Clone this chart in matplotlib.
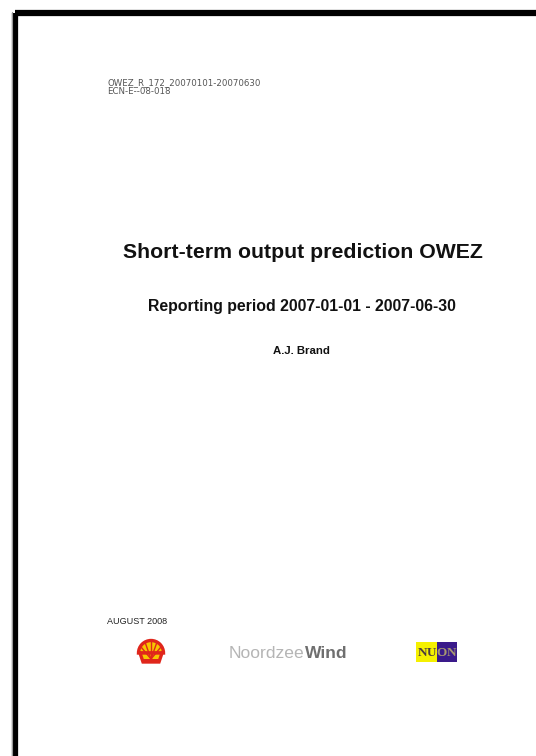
import numpy as np
import matplotlib.pyplot as plt
from matplotlib.patches import Rectangle, Wedge, Polygon

plt.rcParams["font.family"] = ["Liberation Sans", "DejaVu Sans"]

# cover page texts
report_codes = ["OWEZ_R_172_20070101-20070630", "ECN-E--08-018"]
title = "Short-term output prediction OWEZ"
subtitle = "Reporting period 2007-01-01 - 2007-06-30"
author = "A.J. Brand"
date_label = "AUGUST 2008"
partner_words = ["Noordzee", "Wind"]
nuon_letters = ["N", "U", "O", "N"]

W, H = 536, 756
fig = plt.figure(figsize=(W / 100, H / 100), dpi=100)
ax = fig.add_axes([0, 0, 1, 1])
ax.set_xlim(0, W)
ax.set_ylim(H, 0)
ax.axis("off")

# page frame (right and bottom run off the image)
ax.add_patch(Rectangle((14.5, 13), W + 20, H + 20, fill=False,
                       edgecolor="black", linewidth=4.5))
ax.plot([12, 12], [12, H], color="#999999", linewidth=0.8)

# small report codes
for i, code in enumerate(report_codes):
    ax.text(107, 83 + i * 8.5, code, fontsize=6.2, color="#555555",
            family="DejaVu Sans", ha="left", va="center")

ax.text(303, 253, title, fontsize=15.3, fontweight="bold",
        ha="center", va="center", color="#111111")
ax.text(302, 307, subtitle, fontsize=11.4, fontweight="bold",
        ha="center", va="center", color="#111111")
ax.text(301, 351, author, fontsize=8.2, fontweight="bold",
        ha="center", va="center", color="#111111")
ax.text(107, 622, date_label, fontsize=6.5, ha="left", va="center",
        color="#222222")

# Shell logo
cx, cy = 151, 653
ax.add_patch(Wedge((cx, cy), 12.5, 180, 360, facecolor="#f7c600",
                   edgecolor="#e0261b", linewidth=2.4, zorder=3))
ax.add_patch(Polygon([(cx - 11, cy), (cx + 11, cy), (cx + 8, cy + 9),
                      (cx - 8, cy + 9)], closed=True,
                     facecolor="#f7c600", edgecolor="#e0261b",
                     linewidth=2.4, zorder=3))
for ang in [-60, -30, 0, 30, 60]:
    a = np.deg2rad(90 + ang)
    ax.plot([cx, cx + 11 * np.cos(a)], [cy + 6, cy - 11 * np.sin(a)],
            color="#e0261b", linewidth=1.0, zorder=4)
ax.add_patch(Rectangle((cx - 8, cy + 5.5), 16, 3.5, facecolor="#e0261b",
                       edgecolor="none", zorder=4))

# NoordzeeWind wordmark
t1 = ax.text(229, 653, partner_words[0], fontsize=12.6, color="#b5b5b5",
             ha="left", va="center")
ax.annotate(partner_words[1], xy=(1, 0.5), xycoords=t1,
            fontsize=12.6, fontweight="bold", color="#6f6f6f",
            ha="left", va="center")

# NUON logo
ax.add_patch(Rectangle((416, 642), 21, 20, facecolor="#f5f000",
                       edgecolor="none"))
ax.add_patch(Rectangle((437, 642), 20, 20, facecolor="#3a1a8a",
                       edgecolor="none"))
nx = [422, 431.5, 441.5, 451]
ncol = ["#4a3a40", "#4a3a40", "#a89870", "#a89870"]
for x, ch, c in zip(nx, nuon_letters, ncol):
    ax.text(x, 653, ch, fontsize=9.5, fontweight="bold", family="Liberation Serif",
            color=c, ha="center", va="center")

fig.savefig("out.png", dpi=100)
